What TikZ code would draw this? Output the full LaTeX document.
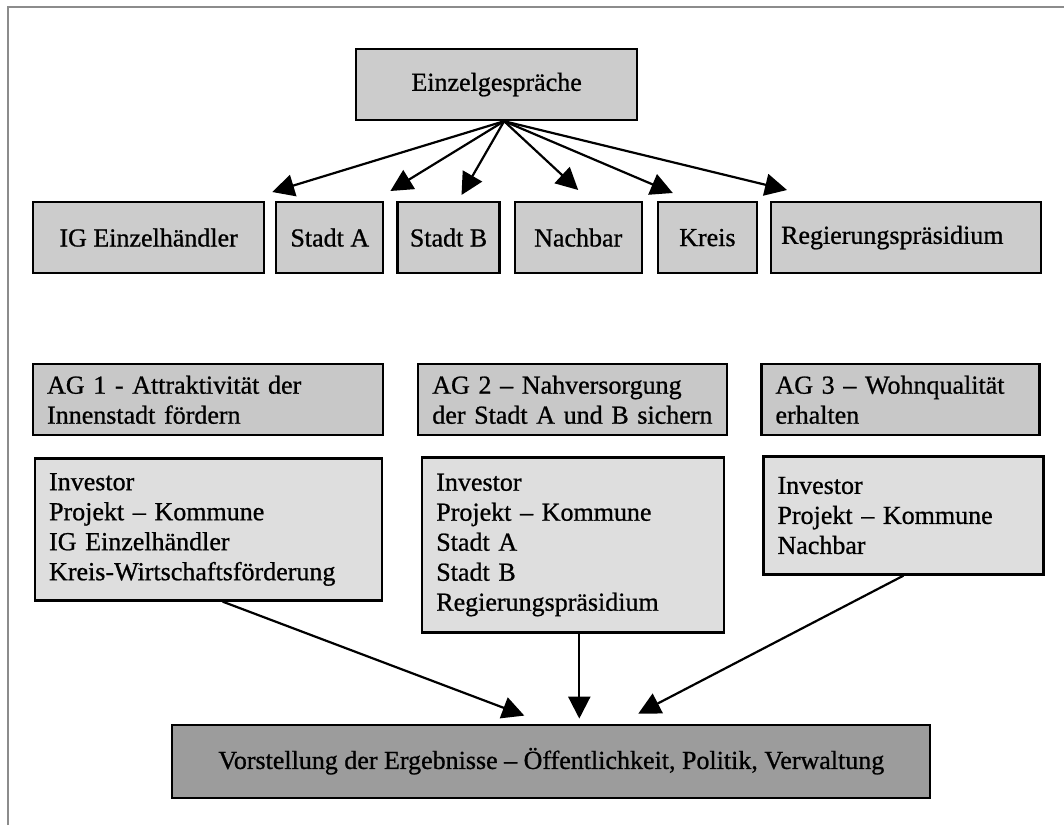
\documentclass[tikz,border=0pt]{standalone}
\usepackage{fontspec}
\setmainfont{Liberation Serif}[FakeBold=0.8]
\usepackage{tikz}
\usetikzlibrary{
  arrows.meta,
  positioning
}
\definecolor{topgray}{RGB}{204,204,204}
\definecolor{aggray}{RGB}{200,200,200}
\definecolor{grpgray}{RGB}{222,222,222}
\definecolor{resgray}{RGB}{156,156,156}
\definecolor{framegray}{RGB}{140,140,140}
\tikzset{
  basebox/.style={draw, line width=1.1pt,
    font=\fontsize{13pt}{15pt}\selectfont},
  topbox/.style={basebox, fill=topgray, minimum height=35.5pt},
  agbox/.style={basebox, fill=aggray, minimum height=35.5pt,
    align=left, inner xsep=7pt},
  grpbox/.style={basebox, fill=grpgray, align=left, inner xsep=7pt},
  resbox/.style={basebox, fill=resgray, minimum height=36.5pt,
    minimum width=379pt},
  arr/.style={-{Triangle[length=11pt,width=11pt]}, line width=1.1pt},
}

\begin{document}
\begin{tikzpicture}
  \useasboundingbox (0,0) rectangle (532pt,-412.5pt);
  % Frame
  \draw[framegray, line width=0.8pt] (4pt,-412.5pt) -- (4pt,-3.5pt) -- (532pt,-3.5pt);

  % Einzelgespraeche
  \node[topbox, minimum width=140.5pt, anchor=north west] (einzel)
    at (177.5pt,-24pt) {Einzelgespräche};

  % Partner
  \node[topbox, minimum width=115.5pt, anchor=north west] (ig)
    at (16pt,-100.5pt) {IG Einzelhändler};
  \node[topbox, minimum width=53.5pt, right=5pt of ig] (stadta) {Stadt A};
  \node[topbox, minimum width=51pt, right=6pt of stadta] (stadtb) {Stadt B};
  \node[topbox, minimum width=63.5pt, right=6.5pt of stadtb] (nachbar) {Nachbar};
  \node[topbox, minimum width=49.5pt, right=7pt of nachbar] (kreis) {Kreis};
  \node[topbox, text width=125pt, align=left, inner xsep=5pt,
    right=6pt of kreis] (rp) {Regierungspräsidium};

  % Arrows
  \draw[arr] ([xshift=3.75pt]einzel.south) -- ([shift={(3.5pt,4.5pt)}]ig.north east);
  \draw[arr] ([xshift=3.75pt]einzel.south) -- ([shift={(3pt,5pt)}]stadta.north east);
  \draw[arr] ([xshift=3.75pt]einzel.south) -- ([shift={(6.5pt,3pt)}]stadtb.north);
  \draw[arr] ([xshift=3.75pt]einzel.south) -- ([shift={(0pt,5.5pt)}]nachbar.north);
  \draw[arr] ([xshift=3.75pt]einzel.south) -- ([shift={(8pt,4pt)}]kreis.north west);
  \draw[arr] ([xshift=3.75pt]einzel.south) -- ([shift={(8.5pt,5.5pt)}]rp.north west);

  % Arbeitsgruppen
  \node[agbox, text width=161pt, anchor=north west] (ag1)
    at ([yshift=-44.5pt]ig.south west) {AG 1 - Attraktivität der\\Innenstadt fördern};
  \node[agbox, text width=140.5pt, right=16.5pt of ag1] (ag2)
    {AG 2 – Nahversorgung\\der Stadt A und B sichern};
  \node[agbox, text width=125pt, right=16pt of ag2] (ag3)
    {AG 3 – Wohnqualität\\erhalten};

  % Teilnehmer
  \node[grpbox, text width=159.5pt, minimum height=71pt, anchor=north west] (m1)
    at ([shift={(1pt,-10.5pt)}]ag1.south west)
    {Investor\\Projekt – Kommune\\IG Einzelhändler\\Kreis-Wirtschaftsförderung};
  \node[grpbox, text width=137pt, minimum height=87.5pt, anchor=north west] (m2)
    at ([shift={(2pt,-10pt)}]ag2.south west)
    {Investor\\Projekt – Kommune\\Stadt A\\Stadt B\\Regierungspräsidium};
  \node[grpbox, text width=126pt, minimum height=59pt, anchor=north west] (m3)
    at ([shift={(1pt,-9.5pt)}]ag3.south west)
    {Investor\\Projekt – Kommune\\Nachbar};

  % Ergebnis
  \node[resbox, anchor=north] (res) at ([shift={(-11pt,-45pt)}]m2.south)
    {Vorstellung der Ergebnisse – Öffentlichkeit, Politik, Verwaltung};

  \draw[arr] ([xshift=7pt]m1.south) -- ([shift={(-13.5pt,4pt)}]res.north);
  \draw[arr] ([xshift=3pt]m2.south) -- ([shift={(14pt,2.5pt)}]res.north);
  \draw[arr] (m3.south) -- ([shift={(43.5pt,5pt)}]res.north);
\end{tikzpicture}
\end{document}
